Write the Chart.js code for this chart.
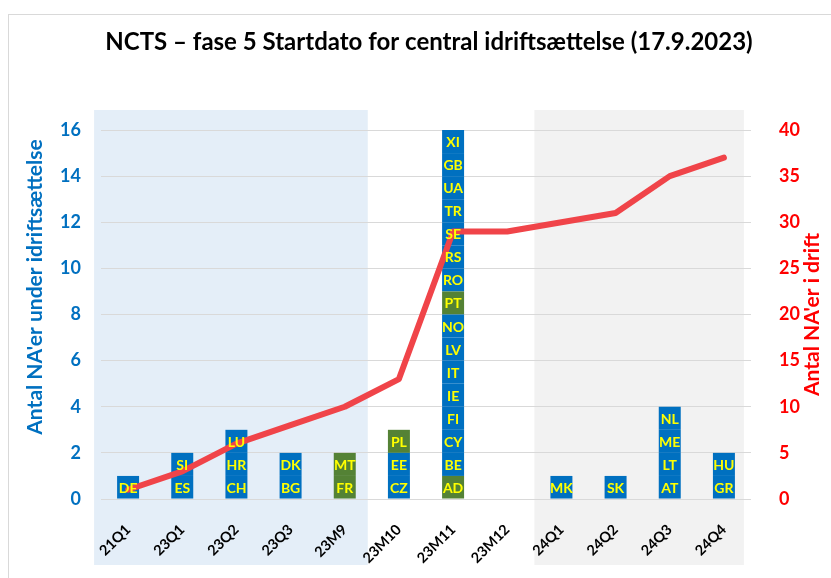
<!DOCTYPE html>
<html><head><meta charset="utf-8">
<script src="https://cdn.jsdelivr.net/npm/chart.js@4.4.0/dist/chart.umd.min.js"></script>
<style>html,body{margin:0;padding:0;background:#fff}#wrap{width:831px;height:578px;position:relative}</style>
</head><body><div id="wrap"><canvas id="c" width="831" height="578"></canvas></div>
<script>
const categories = ['21Q1','23Q1','23Q2','23Q3','23M9','23M10','23M11','23M12','24Q1','24Q2','24Q3','24Q4'];
// countries starting central operation, bottom to top of each stacked bar
const countries = [
  ['DE'],
  ['ES','SI'],
  ['CH','HR','LU'],
  ['BG','DK'],
  ['FR','MT'],
  ['CZ','EE','PL'],
  ['AD','BE','CY','FI','IE','IT','LV','NO','PT','RO','RS','SE','TR','UA','GB','XI'],
  [],
  ['MK'],
  ['SK'],
  ['AT','LT','ME','NL'],
  ['GR','HU']
];
const greenCountries = ['FR','MT','PL','AD','PT'];
const inOperation = [1,3,6,8,10,13,29,29,30,31,35,37];
const leftTickMax = 16, leftTickStep = 2;
const rightTickMax = 40, rightTickStep = 5;

const titleText = 'NCTS \u2013 fase 5 Startdato for central idriftsættelse (17.9.2023)';
const leftTitle = "Antal NA'er under idriftsættelse";
const rightTitle = "Antal NA'er i drift";

const BLUE = '#0070C0', GREEN = '#548235', RED = '#FF0000', LINE = '#F04449';
const FONT = 'Lato';

const maxLevel = Math.max(...countries.map(c => c.length));
const datasets = [];
for (let lv = 0; lv < maxLevel; lv++) {
  datasets.push({
    type: 'bar',
    level: lv,
    data: countries.map(c => c[lv] ? 1 : null),
    backgroundColor: countries.map(c => greenCountries.includes(c[lv]) ? GREEN : BLUE),
    yAxisID: 'y',
    order: 1,
    barPercentage: 1,
    categoryPercentage: 0.406
  });
}
datasets.push({
  type: 'line',
  data: inOperation,
  yAxisID: 'y2',
  borderColor: LINE,
  borderWidth: 6,
  pointRadius: 0,
  tension: 0,
  borderJoinStyle: 'round',
  borderCapStyle: 'round',
  order: 0
});

const decor = {
  id: 'decor',
  beforeDraw(chart) {
    const {ctx, chartArea: a, scales: {x}} = chart;
    ctx.save();
    ctx.fillStyle = '#fff';
    ctx.fillRect(0, 0, chart.width, chart.height);
    ctx.strokeStyle = '#D9D9D9';
    ctx.lineWidth = 1;
    ctx.strokeRect(8.5, 14.5, 900, 700);
    const top = a.top - 20, bottom = a.bottom + 66;
    ctx.fillStyle = '#E4EEF8';
    const bl = x.getPixelForValue(0) - 34, br = x.getPixelForValue(4) + 23;
    ctx.fillRect(bl, top, br - bl, bottom - top);
    ctx.fillStyle = '#F2F2F2';
    const gl = x.getPixelForValue(8) - 27, gr = x.getPixelForValue(11) + 20;
    ctx.fillRect(gl, top, gr - gl, bottom - top);
    ctx.restore();
  },
  afterDatasetsDraw(chart) {
    const ctx = chart.ctx;
    ctx.save();
    ctx.fillStyle = '#FFFF00';
    ctx.font = 'bold 14px ' + FONT;
    ctx.textAlign = 'center';
    ctx.textBaseline = 'middle';
    chart.data.datasets.forEach((ds, di) => {
      if (ds.type !== 'bar') return;
      const meta = chart.getDatasetMeta(di);
      meta.data.forEach((el, i) => {
        const code = countries[i][ds.level];
        if (!code) return;
        const p = el.getProps(['x','y','base'], true);
        ctx.fillText(code, p.x, (p.y + p.base) / 2 + 1);
      });
    });
    ctx.restore();
  },
  afterDraw(chart) {
    const {ctx, chartArea: a} = chart;
    ctx.save();
    ctx.textAlign = 'center';
    ctx.textBaseline = 'middle';
    ctx.font = 'bold 21px ' + FONT;
    ctx.fillStyle = BLUE;
    ctx.translate(35, 287);
    ctx.rotate(-Math.PI / 2);
    ctx.fillText(leftTitle, 0, 0);
    ctx.restore();
    ctx.save();
    ctx.textAlign = 'center';
    ctx.textBaseline = 'middle';
    ctx.font = 'bold 21px ' + FONT;
    ctx.fillStyle = RED;
    ctx.translate(812, (a.top + a.bottom) / 2);
    ctx.rotate(-Math.PI / 2);
    ctx.fillText(rightTitle, 0, 0);
    ctx.restore();
  }
};

new Chart(document.getElementById('c'), {
  data: { labels: categories, datasets },
  options: {
    responsive: false,
    animation: false,
    layout: { padding: { left: 27, right: 0, top: 0, bottom: 0 } },
    plugins: {
      legend: { display: false },
      tooltip: { enabled: false },
      title: {
        display: true,
        text: titleText,
        color: '#000',
        font: { family: FONT, size: 24, weight: 'bold' },
        padding: { top: 28, bottom: 73.2 }
      }
    },
    scales: {
      x: {
        stacked: true,
        grid: { display: false },
        border: { display: false },
        ticks: { color: '#000', font: { family: FONT, size: 14.5, weight: 'bold' }, minRotation: 45, maxRotation: 45, padding: 14, autoSkip: false },
        afterFit(s) { s.height = 79; }
      },
      y: {
        stacked: true,
        position: 'left',
        min: 0, max: leftTickMax,
        grid: { color: '#D9D9D9', drawTicks: false },
        border: { display: false },
        ticks: { stepSize: leftTickStep, color: BLUE, padding: 20, font: { family: FONT, size: 18, weight: 'bold' } },
        afterFit(s) { s.width = 74; }
      },
      y2: {
        position: 'right',
        min: 0, max: rightTickMax,
        grid: { display: false, drawOnChartArea: false },
        border: { display: false },
        ticks: { stepSize: rightTickStep, color: RED, padding: 20, font: { family: FONT, size: 18, weight: 'bold' } },
        afterFit(s) { s.width = 80; }
      }
    }
  },
  plugins: [decor]
});
</script>
</body></html>
